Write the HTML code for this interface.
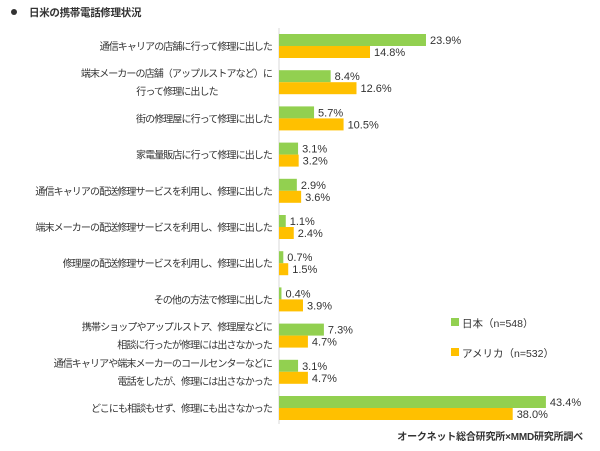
<!DOCTYPE html>
<html><head><meta charset="utf-8"><style>
body{margin:0;background:#fff;width:600px;height:446px;overflow:hidden;font-family:"Liberation Sans","Noto Sans CJK JP",sans-serif;}
svg text{font-family:"Liberation Sans","Noto Sans CJK JP",sans-serif;}
</style></head><body>
<svg id="c" width="600" height="446">
<circle cx="14" cy="12" r="3" fill="#333"/>
<text x="29" y="16" font-size="10.5" font-weight="bold" fill="#333" letter-spacing="-0.3">日米の携帯電話修理状況</text>
<line x1="279" y1="28" x2="279" y2="424" stroke="#d9d9d9"/>
<g id="bars"></g>
<rect x="451" y="318" width="8" height="8" fill="#92d050"/>
<text x="462" y="327" font-size="10.5" fill="#333">日本（n=548）</text>
<rect x="451" y="348" width="8" height="8" fill="#ffc000"/>
<text x="462" y="357" font-size="10.5" fill="#333">アメリカ（n=532）</text>
<text x="583" y="440" font-size="10" font-weight="bold" fill="#333" text-anchor="end" letter-spacing="-0.2">オークネット総合研究所×MMD研究所調べ</text>
</svg>
<script>
const categories=[["通信キャリアの店舗に行って修理に出した"],["端末メーカーの店舗（アップルストアなど）に","行って修理に出した"],["街の修理屋に行って修理に出した"],["家電量販店に行って修理に出した"],["通信キャリアの配送修理サービスを利用し、修理に出した"],["端末メーカーの配送修理サービスを利用し、修理に出した"],["修理屋の配送修理サービスを利用し、修理に出した"],["その他の方法で修理に出した"],["携帯ショップやアップルストア、修理屋などに","相談に行ったが修理には出さなかった"],["通信キャリアや端末メーカーのコールセンターなどに","電話をしたが、修理には出さなかった"],["どこにも相談もせず、修理にも出さなかった"]];
const japan=[23.9,8.4,5.7,3.1,2.9,1.1,0.7,0.4,7.3,3.1,43.4];
const usa=[14.8,12.6,10.5,3.2,3.6,2.4,1.5,3.9,4.7,4.7,38.0];
const NS="http://www.w3.org/2000/svg",g=document.getElementById('bars');
const x0=279,k=6.15,y0=46,step=36.2,bh=12;
const xs=v=>x0+v*k;
function el(t,a){const e=document.createElementNS(NS,t);for(const n in a)e.setAttribute(n,a[n]);g.appendChild(e);return e;}
categories.forEach((lab,i)=>{
 const cy=y0+i*step;
 [[japan[i],'#92d050',cy-bh,'japan'],[usa[i],'#ffc000',cy,'usa']].forEach(([v,c,y,s])=>{
  const r=el('rect',{x:x0,y:y,width:xs(v)-x0,height:bh,fill:c});
  
  
  const t=el('text',{x:xs(v)+4,y:y+10,'font-size':11,fill:'#333'});
  t.textContent=v.toFixed(1)+'%';
  
  
 });
 lab.forEach((l,j)=>{
  const ty=cy+4+(lab.length===2?(j===0?-9:9):0);
  const mid=i===1&&j===1;
  const t=el('text',{x:mid?177:272,y:ty,'font-size':10,'letter-spacing':-0.9,fill:'#333','text-anchor':mid?'middle':'end'});
  t.textContent=l;
  
  
 });
});
</script>
</body></html>
